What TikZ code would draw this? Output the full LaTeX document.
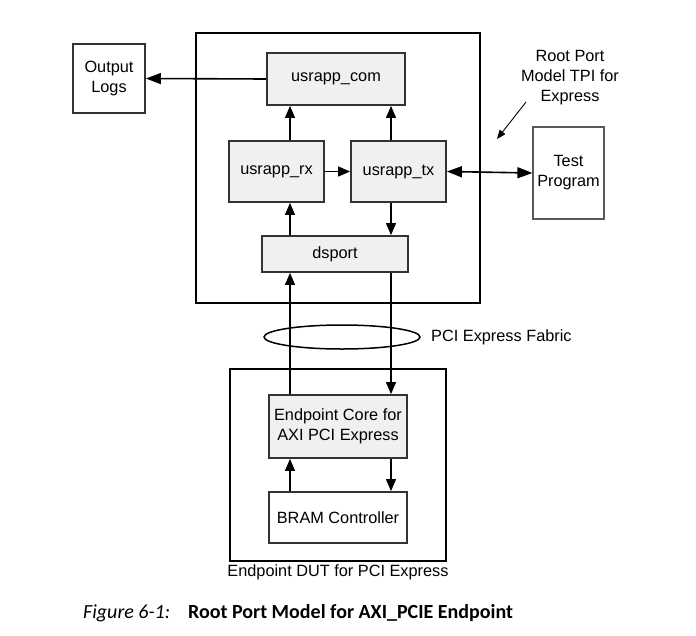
\documentclass[tikz,border=0pt]{standalone}
\usepackage{fontspec}
\setmainfont{Liberation Sans}
\newfontfamily\capfont{Carlito}
\usetikzlibrary{arrows.meta,shapes.geometric}
\begin{document}
\begin{tikzpicture}[x=1pt,y=-1pt,
  blk/.style={draw=black!80,line width=1.8pt,fill=black!6,align=center,inner sep=0pt,font=\fontsize{16.3}{20}\selectfont},
  wblk/.style={blk,fill=white},
  frame/.style={draw=black,line width=2.2pt},
  conn/.style={line width=1.1pt,-{Triangle[length=12pt,width=10pt]}},
  lbl/.style={font=\fontsize{16.3}{20}\selectfont,align=center,inner sep=0pt}]
\useasboundingbox (0,0) rectangle (696,635);
% outer frames
\draw[frame] (196,33) rectangle (480,303);
\draw[frame] (230,369) rectangle (446,561);
% blocks
\node[wblk,minimum width=72pt,minimum height=69pt] (logs) at (109,78.5) {Output\\Logs};
\node[blk,minimum width=138pt,minimum height=52pt] (com) at (336,79) {usrapp\_com};
\node[blk,minimum width=95pt,minimum height=61pt] (rx) at (276.5,171.5) {usrapp\_rx};
\node[blk,minimum width=95pt,minimum height=61pt] (tx) at (398.5,171.5) {usrapp\_tx};
\node[blk,minimum width=146pt,minimum height=36pt] (ds) at (335,254) {dsport};
\node[wblk,draw=black!65,line width=1.2pt,minimum width=71pt,minimum height=92pt] (test) at (568.5,173) {Test\\Program};
\node[blk,minimum width=138pt,minimum height=63pt] (ep) at (338,426.5) {Endpoint Core for\\AXI PCI Express};
\node[wblk,minimum width=138pt,minimum height=51pt] (bram) at (338,517.5) {BRAM Controller};
% fabric
\node[draw,line width=1.5pt,ellipse,minimum width=156pt,minimum height=24pt,inner sep=0pt] (fab) at (342,337) {};
\node[lbl,anchor=west] (fabl) at (431,337) {PCI Express Fabric};
\node[lbl] (rp) at (570,78) {Root Port\\Model TPI for\\Express};
\node[lbl,anchor=north] (dut) at (338,564) {Endpoint DUT for PCI Express};
\coordinate (rpa) at (526,102);
\coordinate (rpb) at (497,139);
\draw[line width=0.9pt,-{Triangle[length=9pt,width=7pt]}] (rpa) -- (rpb);
% connectors
\draw[line width=1.6pt,-{Triangle[length=15pt,width=11pt]}] (com.west) -- (logs.east);
\draw[conn] (rx.north -| 290,0) -- (com.south -| 290,0);
\draw[conn] (tx.north -| 391,0) -- (com.south -| 391,0);
\draw[conn] (rx.east) -- (tx.west);
\draw[conn] (tx.south -| 391,0) -- (ds.north -| 391,0);
\draw[conn] (ds.north -| 290,0) -- (rx.south -| 290,0);
\draw[conn] (ep.north -| 290,0) -- (ds.south -| 290,0);
\draw[conn] (ds.south -| 391,0) -- (ep.north -| 391,0);
\draw[conn] (bram.north -| 290,0) -- (ep.south -| 290,0);
\draw[conn] (ep.south -| 391,0) -- (bram.north -| 391,0);
\draw[line width=1.6pt,{Triangle[length=15pt,width=11pt]}-{Triangle[length=15pt,width=11pt]}] (tx.east) -- (test.west);
% caption
\node[anchor=west,inner sep=0pt,font=\capfont\fontsize{20}{24}\selectfont] (cap) at (83,613) {\textit{Figure 6-1:}\hspace{18pt}\textbf{Root Port Model for AXI\_PCIE Endpoint}};
\end{tikzpicture}
\end{document}
